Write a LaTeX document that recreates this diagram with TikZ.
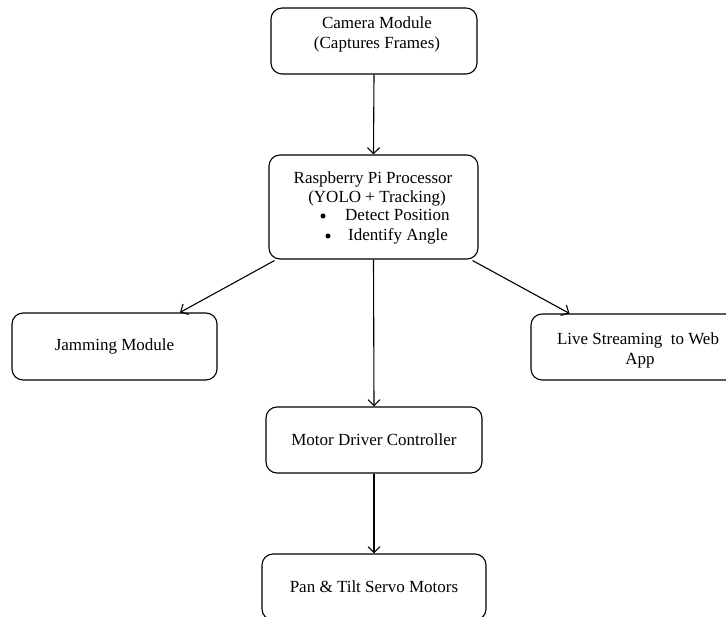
\documentclass[tikz,border=0pt]{standalone}
\usepackage{fontspec}
\setmainfont{Liberation Serif}
\usetikzlibrary{arrows.meta}
\begin{document}
\begin{tikzpicture}[x=1pt,y=-1pt,
  box/.style={draw, line width=1.1pt, rounded corners=11pt, inner sep=0pt, align=center,
    font=\fontsize{17}{20}\selectfont},
  txt/.style={inner sep=0pt, anchor=mid, font=\fontsize{17}{20}\selectfont},
  dot/.style={circle, fill, inner sep=0pt, minimum size=5pt},
  arr/.style={line width=1.1pt, -{Straight Barb[length=6pt,width=12pt,line width=1.1pt]}}]
\useasboundingbox (0,0) rectangle (726,617);
\clip (0,0) rectangle (726,617);
\node[box, minimum width=206pt, minimum height=66pt] (cam) at (374,41) {};
\node[txt] (camA) at (377,26) {Camera Module};
\node[txt] (camB) at (377,46) {(Captures Frames)};

\node[box, minimum width=209pt, minimum height=104pt] (ras) at (373.5,207) {};
\node[txt] (rasA) at (373,181) {Raspberry Pi Processor};
\node[txt] (rasB) at (377,200) {(YOLO + Tracking)};
\node[dot] (rasC1) at (323,216) {};
\node[txt, anchor=mid west] (rasC2) at (345,218) {Detect Position};
\node[dot] (rasD1) at (328,236) {};
\node[txt, anchor=mid west] (rasD2) at (348,238) {Identify Angle};

\node[box, minimum width=205pt, minimum height=67pt] (jam) at (114.5,346.5) {Jamming Module};
\node[box, minimum width=214pt, minimum height=66pt] (live) at (638,347) {};
\node[txt] (liveA) at (638,342) {Live Streaming\ \ to Web};
\node[txt] (liveB) at (640,362) {App};

\node[box, minimum width=216pt, minimum height=66pt] (mot) at (374,440) {Motor Driver Controller};
\node[box, minimum width=224pt, minimum height=66pt] (pan) at (374,587) {Pan \& Tilt Servo Motors};

\draw[arr] (cam.south) -- (ras.north);
\draw[arr] ([xshift=6pt,yshift=-1pt]ras.south west) -- ([xshift=65.5pt]jam.north);
\draw[arr] ([xshift=-6pt,yshift=-1pt]ras.south east) -- ([xshift=39pt]live.north west);
\draw[arr] (ras.south) -- (mot.north);
\draw[arr] (mot.south) -- (pan.north);
\end{tikzpicture}
\end{document}
